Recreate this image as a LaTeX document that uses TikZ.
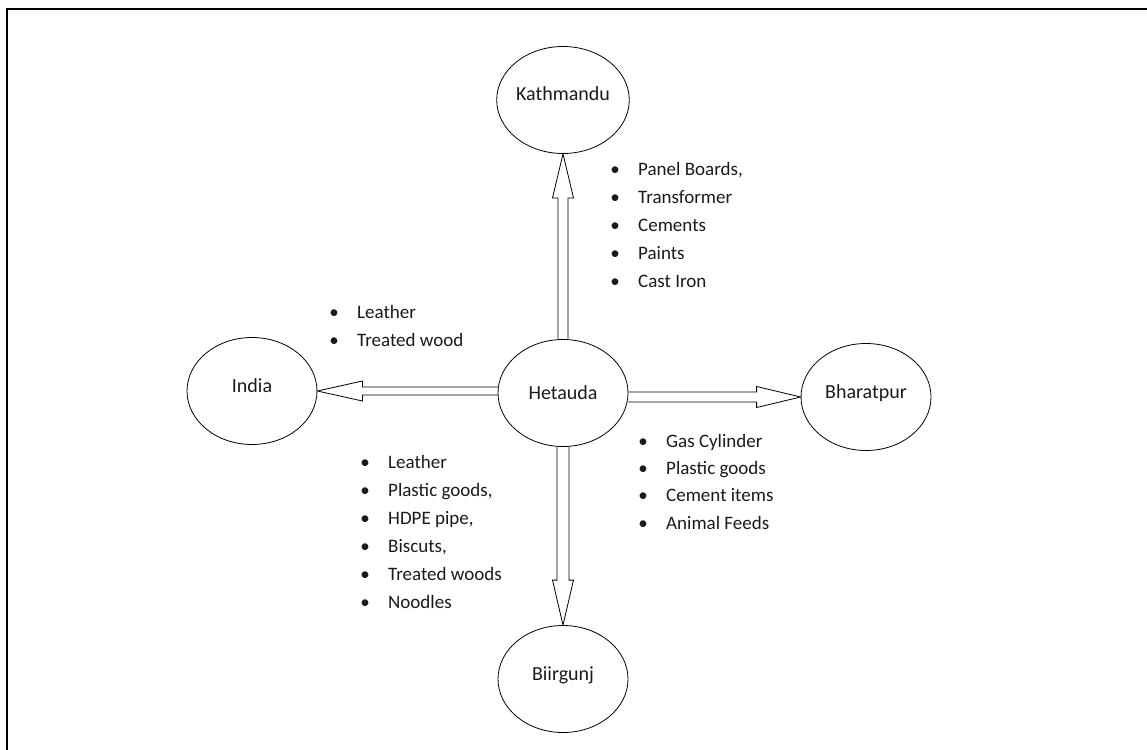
\documentclass[tikz,border=0pt]{standalone}
\usepackage{fontspec}
\setmainfont{Carlito}
\usetikzlibrary{shapes.geometric,calc}
\definecolor{ink}{HTML}{1A1A1A}
\begin{document}
\begin{tikzpicture}[x=1pt,y=-1pt,
  city/.style={ellipse,draw=black,line width=0.8pt,minimum width=130pt,minimum height=107pt,
    inner sep=0pt,text=ink,font=\fontsize{20}{24}\selectfont,text height=14pt,text depth=12pt},
  hub/.style={city,text depth=2pt},
  hollow/.style={draw=black,line width=0.8pt,line join=miter},
  goods/.style={anchor=base west,inner sep=0pt,text=ink,font=\fontsize{19}{28}\selectfont},
  frameline/.style={line width=2pt,line cap=rect}]
\useasboundingbox (0,0) rectangle (1147,749);
\coordinate (fbl) at (7,749);
\coordinate (ftl) at (7,9);
\coordinate (ftr) at (1147,9);
\draw[frameline] (fbl) -- (ftl) -- (ftr);

\node[city] (K) at (563,100) {Kathmandu};
\node[hub] (H) at (563,393) {Hetauda};
\node[city] (I) at (252,391) {India};
\node[city] (Bh) at (866,397) {Bharatpur};
\node[city] (Bi) at (563,679) {Biirgunj};

% up arrow Hetauda -> Kathmandu
\draw[hollow] ($(H.north)+(-5,0)$) -- ($(K.south)+(-5,44)$) -- ($(K.south)+(-10.5,44)$) -- (K.south)
  -- ($(K.south)+(10.5,44)$) -- ($(K.south)+(5,44)$) -- ($(H.north)+(5,0)$);
% left arrow Hetauda -> India
\coordinate (Hw) at (H.west |- I.east);
\draw[hollow] ($(Hw)+(0,-4)$) -- ($(I.east)+(45,-4)$) -- ($(I.east)+(45,-10)$) -- (I.east)
  -- ($(I.east)+(45,10)$) -- ($(I.east)+(45,4)$) -- ($(Hw)+(0,4)$);
% right arrow Hetauda -> Bharatpur
\coordinate (He) at (H.east |- Bh.west);
\draw[hollow] ($(He)+(0,-5)$) -- ($(Bh.west)+(-44,-5)$) -- ($(Bh.west)+(-44,-10.5)$) -- (Bh.west)
  -- ($(Bh.west)+(-44,10.5)$) -- ($(Bh.west)+(-44,5)$) -- ($(He)+(0,5)$);
% down arrow Hetauda -> Biirgunj
\draw[hollow] ($(H.south)+(-6,0)$) -- ($(Bi.north)+(-6,-45)$) -- ($(Bi.north)+(-10.5,-45)$) -- (Bi.north)
  -- ($(Bi.north)+(10.5,-45)$) -- ($(Bi.north)+(6,-45)$) -- ($(H.south)+(6,0)$);

\newcommand{\itm}{\makebox[10pt]{\textbullet}\hspace{18pt}}
\node[goods] (kl) at (610,175) {\begin{tabular}[t]{@{}l@{}}
\itm Panel Boards,\\ \itm Transformer\\ \itm Cements\\ \itm Paints\\ \itm Cast Iron\end{tabular}};
\node[goods] (il) at (329,318) {\begin{tabular}[t]{@{}l@{}}
\itm Leather\\ \itm Treated wood\end{tabular}};
\node[goods] (bil) at (360,468) {\begin{tabular}[t]{@{}l@{}}
\itm Leather\\ \itm Plastic goods,\\ \itm HDPE pipe,\\ \itm Biscuts,\\ \itm Treated woods\\ \itm Noodles\end{tabular}};
\node[goods,font=\fontsize{19}{27.4}\selectfont] (bhl) at (638,447) {\begin{tabular}[t]{@{}l@{}}
\itm Gas Cylinder\\ \itm Plastic goods\\ \itm Cement items\\ \itm Animal Feeds\end{tabular}};
\end{tikzpicture}
\end{document}
